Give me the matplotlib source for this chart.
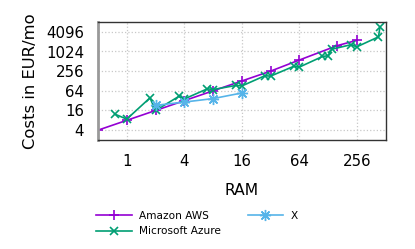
import matplotlib
matplotlib.use("Agg")
from matplotlib import pyplot as plt

# data (RAM in GB, cost in EUR/mo)
aws_ram = [0.5, 1, 2, 4, 8, 16, 32, 64, 160, 256]
aws_cost = [4, 8, 16, 32, 64, 128, 256, 560, 1550, 2250]

azure_ram = [0.75, 1, 1.75, 2, 3.5, 4, 7, 8, 14, 16, 28, 32, 56, 64,
             112, 128, 140, 224, 256, 432, 448]
azure_cost = [12.4, 8.7, 39, 16, 43, 36, 74, 70, 94, 90, 186, 180, 360, 340,
              720, 760, 1200, 1660, 1420, 2870, 5800]

x_ram = [2, 4, 8, 16]
x_cost = [23, 29, 37, 55]

x_ticks = [1, 4, 16, 64, 256]
y_ticks = [4, 16, 64, 256, 1024, 4096]

plt.rcParams['font.family'] = ['DejaVu Sans']

fig = plt.figure(figsize=(4.15, 2.49), dpi=100)
ax = fig.add_axes([98 / 415, 1 - 140 / 249, (385.5 - 98) / 415, (140 - 22) / 249])

ax.plot(aws_ram, aws_cost, color='#9400d3', marker='+', ms=7, mew=1.2, lw=1.2,
        label='Amazon AWS')
ax.plot(azure_ram, azure_cost, color='#009e73', marker='x', ms=6, mew=1.2, lw=1.2,
        label='Microsoft Azure')
ax.plot(x_ram, x_cost, color='#56b4e9', marker=(8, 2, 0), ms=8, mew=1.0, lw=1.2,
        label='X')

ax.set_xscale('log', base=2)
ax.set_yscale('log', base=2)
ax.set_xlim(0.5, 512)
ax.set_ylim(2, 8192)
ax.set_xticks(x_ticks)
ax.set_xticklabels([str(t) for t in x_ticks])
ax.set_yticks(y_ticks)
ax.set_yticklabels([str(t) for t in y_ticks])
ax.minorticks_off()
ax.tick_params(length=0, labelsize=10.8)
ax.tick_params(axis='x', pad=10)
ax.tick_params(axis='y', pad=10)
ax.grid(True, color='#c8c8c8', linestyle=':', linewidth=0.9)

for side in ['top', 'right', 'bottom']:
    ax.spines[side].set_color('#333333')
    ax.spines[side].set_linewidth(1.0)
ax.spines['left'].set_color('#999999')
ax.spines['left'].set_linewidth(2.0)

ax.set_xlabel('RAM', fontsize=11.2, labelpad=10)
ax.set_ylabel('Costs in EUR/mo', fontsize=11.8, labelpad=6)

ax.legend(loc='upper left', bbox_to_anchor=(96 / 415, 1 - 211 / 249),
          bbox_transform=fig.transFigure, ncol=2, frameon=False,
          fontsize=7.6, handlelength=3.4, handletextpad=0.7,
          columnspacing=2.5, labelspacing=0.5, borderpad=0, borderaxespad=0)

fig.savefig('out.png', dpi=100)
